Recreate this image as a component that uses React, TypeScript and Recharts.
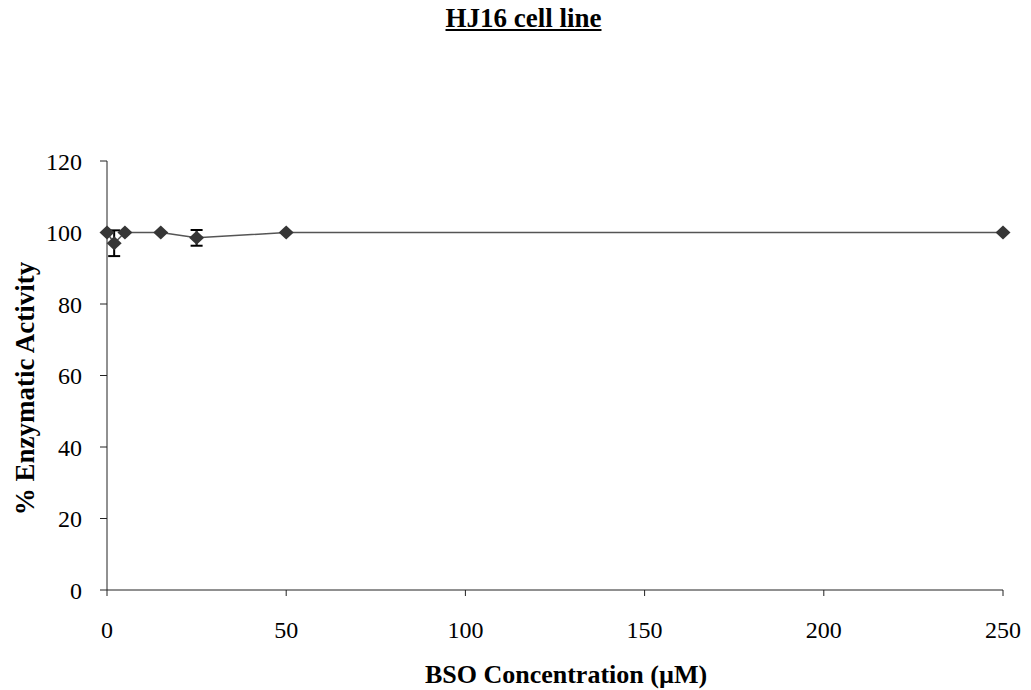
import React from 'react';
import {
  ErrorBar,
  Label,
  Line,
  LineChart,
  XAxis,
  YAxis,
} from 'recharts';

// BSO concentration (uM)
const concentrations = [0, 2, 5, 15, 25, 50, 250];
// % enzymatic activity
const activity = [100, 97, 100, 100, 98.5, 100, 100];
// standard error
const errors = [0, 3.6, 0, 0, 2.2, 0, 0];

const xTicks = [0, 50, 100, 150, 200, 250];
const yTicks = [0, 20, 40, 60, 80, 100, 120];

const data = concentrations.map((c, i) => ({
  conc: c,
  activity: activity[i],
  err: errors[i],
}));

const serif = '"Liberation Serif", "Times New Roman", serif';

const Diamond = (props: any) => {
  const { cx, cy, index } = props;
  if (cx == null || cy == null) return <g key={index} />;
  return (
    <path
      key={index}
      d={`M${cx},${cy - 7} L${cx + 7.5},${cy} L${cx},${cy + 7} L${cx - 7.5},${cy} Z`}
      fill="#363636"
    />
  );
};

const App = () => {
  return (
    <div style={{ position: 'absolute', left: 0, top: 0, width: 1031, height: 690, background: '#fff' }}>
      <div
        style={{
          position: 'absolute',
          left: 0,
          top: 5,
          width: 1047,
          textAlign: 'center',
          fontFamily: serif,
          fontWeight: 'bold',
          fontSize: 27,
          lineHeight: 1,
          textDecoration: 'underline',
          color: '#000',
        }}
      >
        HJ16 cell line
      </div>
      <LineChart
        width={1031}
        height={690}
        data={data}
        margin={{ top: 161, right: 28, left: 0, bottom: 0 }}
      >
        <XAxis
          dataKey="conc"
          type="number"
          domain={[0, 250]}
          ticks={xTicks}
          height={100}
          tickSize={6}
          tickMargin={25}
          axisLine={{ stroke: '#222' }}
          tickLine={{ stroke: '#222' }}
          tick={{ fill: '#000', fontFamily: serif, fontSize: 24 }}
        >
          <Label
            content={(p: any) => {
              const vb = p.viewBox || {};
              const cx = vb.x + vb.width / 2 + 11;
              return (
                <text
                  x={cx}
                  y={683}
                  textAnchor="middle"
                  fontFamily={serif}
                  fontWeight="bold"
                  fontSize={26}
                  fill="#000"
                >
                  BSO Concentration (µM)
                </text>
              );
            }}
          />
        </XAxis>
        <YAxis
          type="number"
          domain={[0, 120]}
          ticks={yTicks}
          width={107}
          tickSize={7}
          tickMargin={18}
          axisLine={{ stroke: '#222' }}
          tickLine={{ stroke: '#222' }}
          tick={{ fill: '#000', fontFamily: serif, fontSize: 24 }}
        >
          <Label
            content={(p: any) => {
              const vb = p.viewBox || {};
              const cy = vb.y + vb.height / 2 + 13;
              return (
                <text
                  x={25}
                  y={cy}
                  transform={`rotate(-90, 25, ${cy})`}
                  textAnchor="middle"
                  dominantBaseline="central"
                  fontFamily={serif}
                  fontWeight="bold"
                  fontSize={27}
                  fill="#000"
                >
                  % Enzymatic Activity
                </text>
              );
            }}
          />
        </YAxis>
        <Line
          type="linear"
          dataKey="activity"
          stroke="#555"
          strokeWidth={1.5}
          dot={<Diamond />}
          activeDot={false}
          isAnimationActive={false}
        >
          <ErrorBar dataKey="err" width={6} stroke="#000" strokeWidth={2} direction="y" />
        </Line>
      </LineChart>
    </div>
  );
};

export default App;
